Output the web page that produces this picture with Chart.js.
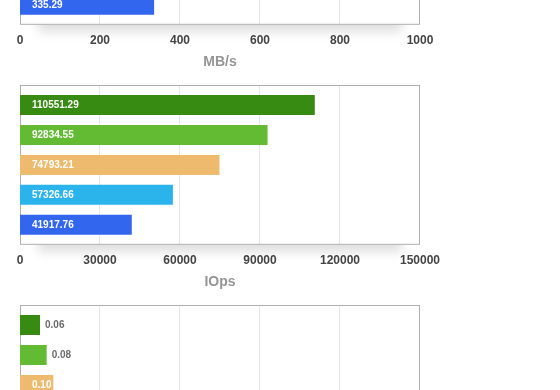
<!DOCTYPE html>
<html>
<head>
<meta charset="utf-8">
<script src="https://cdn.jsdelivr.net/npm/chart.js@4/dist/chart.umd.min.js"></script>
<style>
  html, body { margin: 0; padding: 0; background: #fff; }
  body { width: 560px; height: 390px; overflow: hidden; position: relative; }
  .box { position: absolute; left: 0; width: 560px; height: 216px; }
  #boxMbs { top: -145px; }
  #boxIops { top: 75px; }
  #boxLat { top: 295px; }
</style>
</head>
<body>
<div class="box" id="boxMbs"><canvas id="mbsChart" width="560" height="216"></canvas></div>
<div class="box" id="boxIops"><canvas id="iopsChart" width="560" height="216"></canvas></div>
<div class="box" id="boxLat"><canvas id="latChart" width="560" height="216"></canvas></div>
<script>
// bar order is the same in all three panels, top to bottom
const categories = ['A', 'B', 'C', 'D', 'E'];
const barColors = ['#378b12', '#63bb33', '#eeba6e', '#2bb3ec', '#3366ee'];

// only the last bar of the throughput panel is inside the picture
const mbsValues = [null, null, null, null, 335.29];
const mbsTicks = { max: 1000, step: 200 };

const iopsValues = [110551.29, 92834.55, 74793.21, 57326.66, 41917.76];
const iopsTicks = { max: 150000, step: 30000 };

// latency panel is cut off after the third bar
const latValues = [0.06, 0.08, 0.10, null, null];
const latTicks = { max: 1.2, step: 0.24 };

Chart.defaults.font.family = '"Liberation Sans", Arial, sans-serif';
Chart.defaults.animation = false;

// white frame with a soft shadow, grid lines spanning the whole frame
const framePlugin = {
  id: 'frame',
  beforeDatasetsDraw(chart) {
    const ctx = chart.ctx, a = chart.chartArea;
    const top = a.top - 4.5, h = a.height + 9;
    ctx.save();
    ctx.shadowColor = 'rgba(0,0,0,0.14)';
    ctx.shadowBlur = 12;
    ctx.shadowOffsetY = 7;
    ctx.fillStyle = '#fff';
    ctx.fillRect(a.left + 18, top + h - 20, a.width - 36, 20);
    ctx.restore();
    ctx.fillStyle = '#fff';
    ctx.fillRect(a.left, top, a.width, h);

    const xs = chart.scales.x;
    ctx.strokeStyle = '#e6e6e6';
    ctx.lineWidth = 1;
    xs.ticks.forEach((t, i) => {
      if (i === 0 || i === xs.ticks.length - 1) return;
      const px = Math.round(xs.getPixelForValue(t.value)) - 0.5;
      ctx.beginPath();
      ctx.moveTo(px, top);
      ctx.lineTo(px, top + h);
      ctx.stroke();
    });
    ctx.strokeStyle = '#b0b0b0';
    ctx.strokeRect(a.left + 0.5, top, a.width - 1, h);
  },
  afterDatasetsDraw(chart) {
    const ctx = chart.ctx;
    const values = chart.data.datasets[0].data;
    const meta = chart.getDatasetMeta(0);
    ctx.save();
    ctx.font = 'bold 10px "Liberation Sans", Arial, sans-serif';
    ctx.textBaseline = 'middle';
    meta.data.forEach((bar, i) => {
      const v = values[i];
      if (v == null) return;
      const txt = v.toFixed(2);
      const w = ctx.measureText(txt).width;
      if (bar.x - bar.base > w + 10) {
        ctx.fillStyle = '#fff';
        ctx.fillText(txt, bar.base + 12, bar.y);
      } else {
        ctx.fillStyle = '#6b6b6b';
        ctx.fillText(txt, bar.x + 5, bar.y);
      }
    });
    ctx.restore();
  }
};

function makePanel(id, values, ticks, unit) {
  const el = document.getElementById(id);
  if (!el) return;
  new Chart(el, {
    type: 'bar',
    data: {
      labels: categories,
      datasets: [{
        data: values,
        backgroundColor: barColors,
        borderWidth: 0,
        barPercentage: 1, categoryPercentage: 2 / 3
      }]
    },
    options: {
      responsive: false, indexAxis: 'y',
      layout: { padding: { left: 20, right: 140, top: 15, bottom: 0 } },
      plugins: { legend: { display: false }, tooltip: { enabled: false } },
      scales: {
        y: { display: false },
        x: {
          min: 0, max: ticks.max,
          border: { display: false },
          grid: { display: false, drawTicks: false },
          ticks: {
            stepSize: ticks.step, padding: 14, color: '#454545',
            font: { size: 12, weight: 'bold' },
            callback: (v) => String(v)
          },
          title: {
            display: true, text: unit, color: '#959595',
            font: { size: 14, weight: 'bold' }, padding: { top: -8, bottom: 0 }
          }
        }
      }
    },
    plugins: [framePlugin]
  });
}

makePanel('mbsChart', mbsValues, mbsTicks, 'MB/s');
makePanel('iopsChart', iopsValues, iopsTicks, 'IOps');
makePanel('latChart', latValues, latTicks, 'ms');
</script>
</body>
</html>
